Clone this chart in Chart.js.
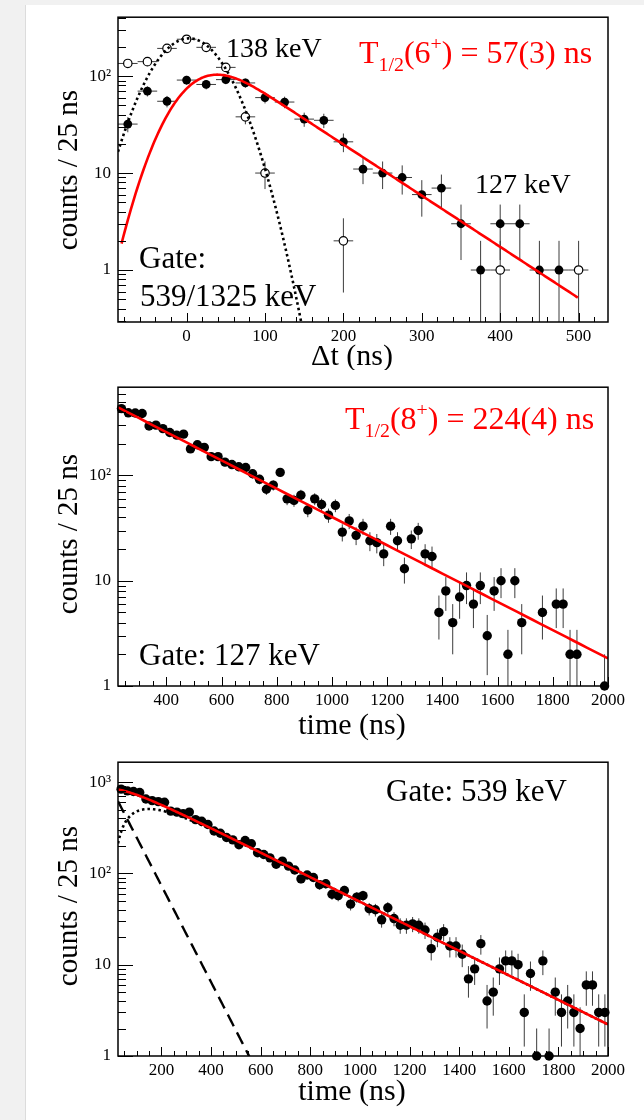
<!DOCTYPE html>
<html lang="en">
<head>
<meta charset="utf-8">
<title>Isomer decay curves</title>
<script src="https://cdn.jsdelivr.net/npm/chart.js@4.4.1/dist/chart.umd.min.js"></script>
<style>
  html, body { margin: 0; padding: 0; }
  body { position: relative; width: 644px; height: 1120px; overflow: hidden; background: #f1f1f1; }
  .sheet { position: absolute; left: 25px; top: 5px; right: 0; bottom: 0; background: #fff; border-left: 1px solid #dcdcdc; }
  canvas { position: absolute; left: 0; }
</style>
</head>
<body>
<div class="sheet"></div>
<canvas id="chart1" width="644" height="370" style="top:0"></canvas>
<canvas id="chart2" width="644" height="375" style="top:370px"></canvas>
<canvas id="chart3" width="644" height="375" style="top:745px"></canvas>
<script>

// 6+ isomer, delta-t spectra (25 ns bins)
const dt127 = [-75, -50, -25, 0, 25, 50, 75, 100, 125, 150, 175, 200, 225, 250, 275, 300, 325, 350, 375, 400, 425, 450, 475]
const counts127 = [32, 70, 55, 91, 82, 92, 85, 60, 54, 36, 35, 21, 11, 10, 9, 6, 7, 3, 1, 3, 3, 1, 1]
const dt138 = [-75, -50, -25, 0, 25, 50, 75, 100, 200, 400, 500]
const counts138 = [135, 141, 193, 240, 198, 123, 38, 10, 2, 1, 1]

// 8+ isomer, gate 127 keV (null = empty bin)
const counts8 = [432, 394, 392, 388, 295, 301, 279, 256, 242, 247,
  179, 196, 185, 151, 151, 134, 127, 121, 119, 104,
  92, 74, 81, 107, 60, 58, 65, 47, 60, 53,
  42, 52, 29, 37, 27, 33, 24, 23, 18, 33,
  24, 13, 25, 30, 18, 17, 5, 8, 4, 7,
  9, 6, 9, 3, 8, 10, 2, 10, 4, null,
  null, 5, null, 6, 6, 2, 2, null, null, null,
  1]

// gate 539 keV
const counts539 = [836, 801, 788, 768, 653, 626, 611, 600, 481, 469,
  451, 469, 388, 372, 343, 291, 275, 247, 233, 206,
  229, 211, 168, 161, 148, 126, 136, 120, 109, 87,
  96, 90, 75, 77, 59, 57, 65, 46, 55, 57,
  41, 40, 31, 42, 32, 27, 27, 28, 27, 24,
  15, 20, 23, 16, 16, 13, 7, 9, 17, 4,
  5, 9, 11, 11, 10, 3, 8, 1, 11, 1,
  5, 3, 4, 3, 2, 6, 6, 3, 3]

const binWidth = 25
const firstBin8 = 237.5
const firstBin539 = 37.5

// labelled axis ticks
const dtTicks = [0, 100, 200, 300, 400, 500]
const timeTicks8 = [400, 600, 800, 1000, 1200, 1400, 1600, 1800, 2000]
const timeTicks539 = [200, 400, 600, 800, 1000, 1200, 1400, 1600, 1800, 2000]
const countTicks = [1, 10, 100]
const countTicks539 = [1, 10, 100, 1000]

const halfLife6 = 57
const halfLife8 = 224

const SERIF = '"Liberation Serif", "DejaVu Serif", serif'
const RED = 'rgb(255, 0, 0)'

// fit functions
const lambda6 = Math.LN2 / halfLife6
const lambda8 = Math.LN2 / halfLife8

const erfc = z => {
  const t = 1 / (1 + 0.5 * Math.abs(z))
  const r = t * Math.exp(-z * z - 1.26551223 + t * (1.00002368 + t * (0.37409196 + t * (0.09678418 +
    t * (-0.18628806 + t * (0.27886807 + t * (-1.13520398 + t * (1.48851587 + t * (-0.82215223 + t * 0.17087277)))))))))
  return z >= 0 ? r : 2 - r
}

const prompt138 = t => 245 * Math.exp(-((t - 3) ** 2) / (2 * 39 ** 2))
const delayed127 = t => {
  const s = 36
  return 204 * Math.exp(lambda6 ** 2 * s * s / 2 - lambda6 * t) * 0.5 * erfc((lambda6 * s * s - t) / (s * Math.SQRT2))
}
const decay8 = t => 444 * Math.exp(-lambda8 * (t - 225))
const fast539 = t => 836 * Math.exp(-lambda6 * t)
const slow539 = t => 1080 * (Math.exp(-lambda8 * t) - 0.987 * Math.exp(-lambda6 * t))
const total539 = t => fast539(t) + slow539(t)

const curve = (f, from, to, step) => {
  const pts = []
  for (let t = from; t <= to + 1e-9; t += step) pts.push({ x: t, y: f(t) })
  return pts
}

const points = (xs, ys) => xs.map((x, i) => ({ x, y: ys[i] })).filter(p => p.y != null)
const bins = (first, ys) => points(ys.map((_, i) => first + i * binWidth), ys)


// plugins

const errorBars = {
  id: 'errorBars',
  beforeDatasetsDraw(chart) {
    const { ctx, chartArea: a, scales: { x, y } } = chart
    ctx.save()
    ctx.beginPath()
    ctx.rect(a.left, a.top, a.right - a.left, a.bottom - a.top)
    ctx.clip()
    ctx.strokeStyle = '#3c3c3c'
    ctx.lineWidth = 1
    chart.data.datasets.forEach(ds => {
      if (!ds.errorBars) return
      ds.data.forEach(p => {
        const s = Math.sqrt(p.y)
        const px = x.getPixelForValue(p.x)
        const py = y.getPixelForValue(p.y)
        const top = y.getPixelForValue(p.y + s)
        const bot = p.y - s > y.min ? y.getPixelForValue(p.y - s) : a.bottom
        ctx.beginPath()
        ctx.moveTo(px, top)
        ctx.lineTo(px, bot)
        ctx.moveTo(x.getPixelForValue(p.x - binWidth / 2), py)
        ctx.lineTo(x.getPixelForValue(p.x + binWidth / 2), py)
        ctx.stroke()
      })
    })
    ctx.restore()
  }
}

const frameTicks = {
  id: 'frameTicks',
  afterDraw(chart, args, opts) {
    const { ctx, chartArea: a, scales: { x, y } } = chart
    ctx.save()
    ctx.strokeStyle = '#000'
    ctx.lineWidth = 1
    ctx.beginPath()
    for (let v = Math.ceil(x.min / opts.minor) * opts.minor; v <= x.max; v += opts.minor) {
      const px = Math.round(x.getPixelForValue(v)) + 0.5
      ctx.moveTo(px, a.bottom)
      ctx.lineTo(px, a.bottom - (v % opts.major === 0 ? 9 : 5))
    }
    for (let d = Math.floor(Math.log10(y.min)); d <= Math.ceil(Math.log10(y.max)); d++) {
      for (let m = 1; m <= 9; m++) {
        const v = m * Math.pow(10, d)
        if (v < y.min || v > y.max) continue
        const py = Math.round(y.getPixelForValue(v)) + 0.5
        ctx.moveTo(a.left, py)
        ctx.lineTo(a.left + (m === 1 ? 15 : 8), py)
      }
    }
    ctx.stroke()
    ctx.lineWidth = 1.5
    ctx.strokeRect(a.left, a.top, a.right - a.left, a.bottom - a.top)
    ctx.restore()
  }
}

// plain or sub/superscripted labels, in canvas pixels
const richText = {
  id: 'richText',
  afterDraw(chart, args, opts) {
    const ctx = chart.ctx
    opts.items.forEach(item => {
      const runs = typeof item.text === 'string' ? [{ t: item.text }] : item.text
      const fontFor = r => `${r.sub || r.sup ? item.size * 0.62 : item.size}px ${SERIF}`
      ctx.save()
      ctx.fillStyle = item.color || '#000'
      ctx.textBaseline = 'alphabetic'
      ctx.translate(item.x, item.y)
      if (item.rotate) ctx.rotate(item.rotate)
      let w = 0
      runs.forEach(r => { ctx.font = fontFor(r); w += ctx.measureText(r.t).width })
      let cx = item.align === 'center' ? -w / 2 : 0
      runs.forEach(r => {
        ctx.font = fontFor(r)
        const dy = r.sub ? item.size * 0.24 : r.sup ? -item.size * 0.42 : 0
        ctx.fillText(r.t, cx, dy)
        cx += ctx.measureText(r.t).width
      })
      ctx.restore()
    })
  }
}

const powerLabel = v => {
  const n = Math.round(Math.log10(v))
  return n === 0 ? '1' : n === 1 ? '10' : '10' + ({ 2: '\u00b2', 3: '\u00b3' })[n]
}

const makeChart = (id, { datasets, x, y, padTop, axisHeight, ticks, items }) => new Chart(id, {
  type: 'scatter',
  data: { datasets },
  options: {
    responsive: false,
    animation: false,
    events: [],
    layout: { padding: { top: padTop, right: 36, bottom: 0, left: 0 } },
    scales: {
      x: {
        type: 'linear',
        min: x.min,
        max: x.max,
        afterBuildTicks: s => { s.ticks = x.ticks.map(value => ({ value })) },
        afterFit: s => { s.height = axisHeight },
        grid: { display: false, drawTicks: false },
        border: { display: false },
        ticks: {
          autoSkip: false,
          maxRotation: 0,
          padding: 4,
          color: '#000',
          font: { family: SERIF, size: 17 },
          callback: v => String(v)
        }
      },
      y: {
        type: 'logarithmic',
        min: y.min,
        max: y.max,
        afterBuildTicks: s => { s.ticks = y.ticks.map(value => ({ value })) },
        afterFit: s => { s.width = 118 },
        grid: { display: false, drawTicks: false },
        border: { display: false },
        ticks: {
          autoSkip: false,
          padding: 7,
          color: '#000',
          font: { family: SERIF, size: 17 },
          callback: powerLabel
        }
      }
    },
    plugins: {
      legend: { display: false },
      tooltip: { enabled: false },
      frameTicks: ticks,
      richText: { items }
    }
  },
  plugins: [errorBars, frameTicks, richText]
})

const yTitle = cy => ({ text: 'counts / 25 ns', x: 77, y: cy, size: 29, align: 'center', rotate: -Math.PI / 2 })

const filled = (data, r) => ({
  data, errorBars: true, clip: false, order: 3,
  pointRadius: r, pointBackgroundColor: '#000', pointBorderColor: '#000', pointBorderWidth: 0
})

const line = (data, color, width, dash, order) => ({
  data, showLine: true, pointRadius: 0, borderColor: color, borderWidth: width,
  borderDash: dash, borderCapStyle: 'butt', order
})


// 6+ : delta-t between 127 keV / 138 keV and the gate
makeChart('chart1', {
  datasets: [
    filled(points(dt127, counts127), 4.4),
    {
      data: points(dt138, counts138), errorBars: true, clip: false, order: 3,
      pointRadius: 4.2, pointBackgroundColor: '#fff', pointBorderColor: '#000', pointBorderWidth: 1.2
    },
    line(curve(prompt138, -87.5, 160, 2), '#000', 2.6, [2.5, 3], 2),
    line(curve(delayed127, -83, 500, 2), RED, 2.6, [], 1)
  ],
  x: { min: -87.5, max: 537.5, ticks: dtTicks },
  y: { min: 0.291, max: 405, ticks: countTicks },
  padTop: 17,
  axisHeight: 48,
  ticks: { minor: 20, major: 100 },
  items: [
    { text: '138 keV', x: 226, y: 57, size: 28 },
    { text: '127 keV', x: 475, y: 193, size: 28 },
    { text: 'Gate:', x: 139, y: 268, size: 31 },
    { text: '539/1325 keV', x: 140, y: 306, size: 31 },
    {
      text: [{ t: 'T' }, { t: '1/2', sub: true }, { t: '(6' }, { t: '+', sup: true }, { t: ') = 57(3) ns' }],
      x: 359, y: 63, size: 32, color: RED
    },
    { text: '\u0394t (ns)', x: 352, y: 365, size: 30, align: 'center' },
    yTitle(170)
  ]
})

// 8+ : time spectrum gated on 127 keV
makeChart('chart2', {
  datasets: [
    filled(bins(firstBin8, counts8), 4.7),
    line(curve(decay8, 225, 2000, 25), RED, 2.6, [], 1)
  ],
  x: { min: 225, max: 2000, ticks: timeTicks8 },
  y: { min: 1, max: 690, ticks: countTicks },
  padTop: 12,
  axisHeight: 59,
  ticks: { minor: 50, major: 200 },
  items: [
    {
      text: [{ t: 'T' }, { t: '1/2', sub: true }, { t: '(8' }, { t: '+', sup: true }, { t: ') = 224(4) ns' }],
      x: 345, y: 59, size: 32, color: RED
    },
    { text: 'Gate: 127 keV', x: 139, y: 295, size: 31 },
    { text: 'time (ns)', x: 352, y: 364, size: 30, align: 'center' },
    yTitle(164)
  ]
})

// time spectrum gated on 539 keV: fast (dashed) + fed slow (dotted) components
makeChart('chart3', {
  datasets: [
    filled(bins(firstBin539, counts539), 4.7),
    line(curve(fast539, 25, 600, 5), '#000', 2.4, [13, 7], 2),
    line(curve(slow539, 25, 2000, 5), '#000', 2.6, [2.5, 3], 2),
    line(curve(total539, 25, 2000, 5), RED, 2.6, [], 1)
  ],
  x: { min: 25, max: 2000, ticks: timeTicks539 },
  y: { min: 1, max: 1650, ticks: countTicks539 },
  padTop: 11,
  axisHeight: 64,
  ticks: { minor: 50, major: 200 },
  items: [
    { text: 'Gate: 539 keV', x: 386, y: 56, size: 31 },
    { text: 'time (ns)', x: 352, y: 355, size: 30, align: 'center' },
    yTitle(161)
  ]
})

</script>
</body>
</html>
